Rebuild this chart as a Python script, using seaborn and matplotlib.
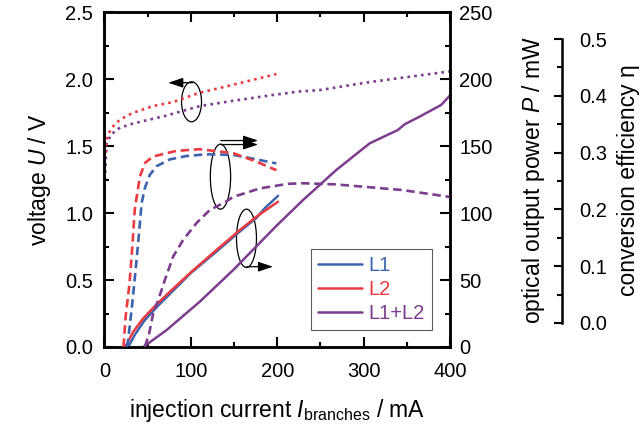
import matplotlib
matplotlib.use("Agg")
import pandas as pd
import seaborn as sns
import matplotlib.pyplot as plt
from matplotlib.patches import Ellipse
from matplotlib.ticker import MultipleLocator

# --- donnees ---
# tension U (V) en fonction du courant I (mA)
i_u_l2 = [1, 2.5, 6, 10, 18, 33, 56, 79, 110, 149, 199]
u_l2 = [1.45, 1.55, 1.61, 1.65, 1.70, 1.75, 1.80, 1.83, 1.90, 1.96, 2.04]
i_u_l12 = [0.5, 1.5, 2.5, 8, 18, 33, 72, 110, 149, 191, 226, 249, 307, 365, 400]
u_l12 = [1.25, 1.40, 1.52, 1.59, 1.64, 1.67, 1.73, 1.80, 1.84, 1.88, 1.91, 1.92, 1.98, 2.03, 2.06]

# puissance optique P (mW)
i_p_l1 = [27.5, 35, 46, 60, 77, 100, 130, 157, 176, 180, 186, 201]
p_l1 = [0, 9, 19.5, 29.5, 40.5, 55.3, 71.5, 86.5, 96.5, 99.5, 104, 113]
i_p_l2 = [24, 33.3, 44.9, 58.4, 75.7, 100.8, 129.7, 156.6, 176, 201]
p_l2 = [0, 11.4, 21.4, 30.6, 41.3, 56.3, 72.5, 87.4, 97.4, 108.6]
i_p_l12 = [45, 72, 110.4, 149, 199, 230, 268.4, 307, 339.7, 347.4, 364.7, 389.8, 400]
p_l12 = [0, 12.7, 33.9, 57.5, 90.5, 109.9, 132.3, 152.2, 162.2, 166.4, 172.1, 180.9, 188]

# rendement de conversion eta
i_e_l1 = [25.5, 27, 31.4, 35.3, 39, 43, 46.8, 52.6, 60.3, 75.7, 95, 118, 149, 176, 199]
e_l1 = [-0.042, -0.035, 0.023, 0.082, 0.141, 0.211, 0.238, 0.261, 0.276, 0.288, 0.294, 0.297, 0.296, 0.288, 0.281]
i_e_l2 = [22, 24.5, 29, 32, 35, 41, 47, 56, 83, 110, 149, 176, 199]
e_l2 = [-0.042, 0.011, 0.070, 0.129, 0.199, 0.258, 0.282, 0.293, 0.303, 0.306, 0.299, 0.284, 0.269]
i_e_l12 = [46.8, 51.8, 56.4, 62.2, 70, 79.5, 91, 106.6, 122, 141, 149, 180, 212.5, 230, 268, 307, 345, 399.4]
e_l12 = [-0.042, -0.018, 0.017, 0.040, 0.076, 0.117, 0.146, 0.176, 0.199, 0.214, 0.222, 0.237, 0.245, 0.246, 0.244, 0.239, 0.234, 0.222]

labels = ["L1", "L2", "L1+L2"]
colors = ["#3B63AE", "#EC3B40", "#7D3C8E"]

sns.set_style("ticks")
plt.rcParams["font.family"] = ["Liberation Sans", "DejaVu Sans"]
plt.rcParams["mathtext.fontset"] = "custom"
plt.rcParams["mathtext.rm"] = "Liberation Sans"
plt.rcParams["mathtext.it"] = "Liberation Sans:italic"
for k in ("text.color", "axes.labelcolor", "xtick.color", "ytick.color", "axes.edgecolor"):
    plt.rcParams[k] = "black"

fig = plt.figure(figsize=(6.39, 4.28), dpi=100)
ax = fig.add_axes([0.1635, 0.1893, 0.5407, 0.7815])
axp = ax.twinx()
axe = ax.twinx()


def trace(axis, x, y, color, ls, lw):
    df = pd.DataFrame({"x": x, "y": y})
    sns.lineplot(data=df, x="x", y="y", ax=axis, color=color, linestyle=ls,
                 linewidth=lw, sort=False, estimator=None, legend=False)


dot = (0, (1, 1.6))
dash = (0, (3.2, 1.8))

# tension (pointilles)
trace(ax, i_u_l12, u_l12, colors[2], dot, 1.9)
trace(ax, i_u_l2, u_l2, colors[1], dot, 1.9)

# rendement (tirets)
trace(axe, i_e_l1, e_l1, colors[0], dash, 1.9)
trace(axe, i_e_l2, e_l2, colors[1], dash, 1.9)
trace(axe, i_e_l12, e_l12, colors[2], dash, 1.9)

# puissance (traits pleins)
trace(axp, i_p_l1, p_l1, colors[0], "-", 1.8)
trace(axp, i_p_l2, p_l2, colors[1], "-", 1.8)
trace(axp, i_p_l12, p_l12, colors[2], "-", 1.8)

# axes
ax.set_xlim(0, 400)
ax.set_ylim(0, 2.5)
axp.set_ylim(0, 250)
axe.set_ylim(-0.0423, 0.5467)

ax.xaxis.set_major_locator(MultipleLocator(100))
ax.xaxis.set_minor_locator(MultipleLocator(50))
ax.yaxis.set_major_locator(MultipleLocator(0.5))
ax.yaxis.set_minor_locator(MultipleLocator(0.25))
ax.yaxis.set_major_formatter("{x:.1f}")
axp.yaxis.set_major_locator(MultipleLocator(50))
axp.yaxis.set_minor_locator(MultipleLocator(25))
axe.yaxis.set_major_locator(MultipleLocator(0.1))
axe.yaxis.set_minor_locator(MultipleLocator(0.05))
axe.yaxis.set_major_formatter("{x:.1f}")

ax.tick_params(which="both", direction="in", top=True, right=False, width=1.5,
               labelsize=14.5, colors="black")
ax.tick_params(which="major", length=7)
ax.tick_params(which="minor", length=3.6)
ax.tick_params(axis="y", pad=8)
ax.tick_params(axis="x", pad=11)
axp.tick_params(which="both", direction="in", width=1.5, labelsize=14.5, pad=6.5,
                colors="black")
axp.tick_params(which="major", length=7)
axp.tick_params(which="minor", length=3.6)
axe.tick_params(which="both", direction="in", width=1.5, labelsize=14.5, pad=13,
                colors="black")
axe.tick_params(which="major", length=6)
axe.tick_params(which="minor", length=3.6)

xt = ax.get_xticklabels()
xt[0].set_ha("left")
xt[-1].set_ha("right")

for a in (ax, axp):
    for s in a.spines.values():
        s.set_linewidth(1.8)
        s.set_color("black")
for name in ("left", "top", "bottom"):
    axe.spines[name].set_visible(False)
axe.spines["right"].set_position(("outward", 80.4))
axe.spines["right"].set_bounds(0, 0.5)
axe.spines["right"].set_linewidth(1.8)
axe.spines["right"].set_color("black")

ax.set_xlabel(r"injection current $\mathit{I}_{\rm branches}$ / mA", fontsize=16.5)
ax.set_ylabel(r"voltage $\mathit{U}$ / V", fontsize=16.5)
axp.set_ylabel(r"optical output power $\mathit{P}$ / mW", fontsize=16.5)
axe.set_ylabel("conversion efficiency η", fontsize=16.5)
ax.xaxis.set_label_coords(0.5, -0.15)
ax.yaxis.set_label_coords(-0.149, 0.5)
axp.yaxis.set_label_coords(1.202, 0.5)
axe.yaxis.set_label_coords(1.483, 0.5)

# ellipses et fleches
ell = dict(fill=False, edgecolor="black", linewidth=0.9)
arr = dict(arrowstyle="-|>,head_length=0.9,head_width=0.3", color="black",
           lw=0.9, shrinkA=0, shrinkB=0)
ax.add_patch(Ellipse((100.8, 1.833), 23.1, 0.299, **ell))
ax.annotate("", xy=(73.8, 1.975), xytext=(102.3, 1.975), arrowprops=arr)
ax.add_patch(Ellipse((134.3, 1.273), 23.5, 0.486, **ell))
ax.annotate("", xy=(177.8, 1.543), xytext=(134.7, 1.543), arrowprops=arr)
ax.annotate("", xy=(177.8, 1.513), xytext=(134.7, 1.513), arrowprops=arr)
ax.add_patch(Ellipse((164.4, 0.812), 23.1, 0.436, **ell))
ax.annotate("", xy=(195.1, 0.600), xytext=(164.7, 0.600), arrowprops=arr)

# legende
handles = [plt.Line2D([], [], color=c, lw=1.8) for c in colors]
leg = axe.legend(handles, labels, loc="lower right", bbox_to_anchor=(0.947, 0.051),
                 borderaxespad=0, fontsize=14.5, frameon=True, fancybox=False,
                 edgecolor="#333333", handlelength=2.2, handletextpad=0.3,
                 labelspacing=0.25, borderpad=0.35)
leg.get_frame().set_linewidth(0.8)
for t, c in zip(leg.get_texts(), colors):
    t.set_color(c)

fig.savefig("out.png", dpi=100)
